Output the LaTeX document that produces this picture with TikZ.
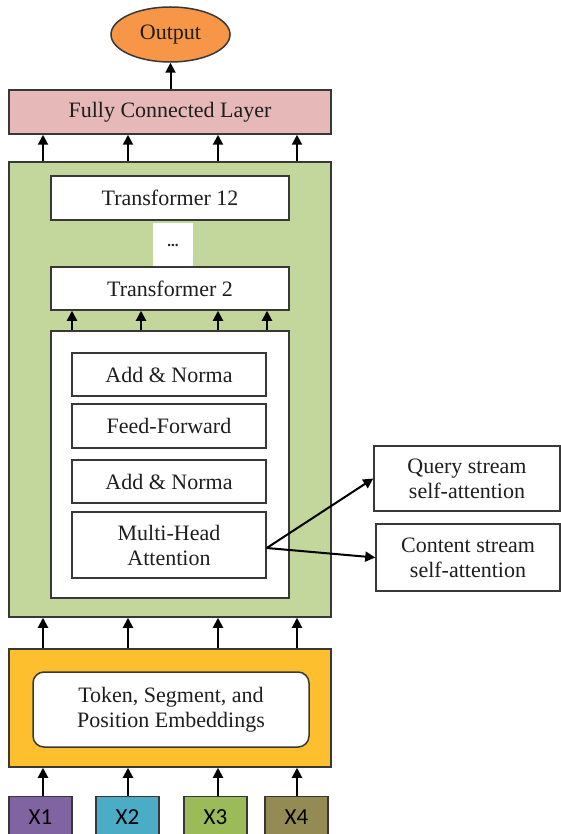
\documentclass[tikz,border=0pt]{standalone}
\usepackage{fontspec}
\setmainfont{Liberation Serif}
\newfontfamily\xfont{Carlito}
\usetikzlibrary{arrows.meta,shapes.geometric}
\definecolor{pinkfc}{HTML}{E6B9B8}
\definecolor{greenbg}{HTML}{C3D69B}
\definecolor{orangebg}{HTML}{FDBF2D}
\definecolor{outorange}{HTML}{F79646}
\definecolor{edge}{HTML}{383838}
\definecolor{txt}{HTML}{1E1E1E}
\definecolor{xone}{HTML}{8064A2}
\definecolor{xtwo}{HTML}{4BACC6}
\definecolor{xthree}{HTML}{9BBB59}
\definecolor{xfour}{HTML}{948A54}
\tikzset{
  x=1pt,y=-1pt,
  box/.style={draw=edge,line width=1.5pt,rectangle,inner sep=0pt,align=center,text=txt,
    font=\fontsize{22}{25}\selectfont},
  xbox/.style={draw=edge,line width=1.5pt,rectangle,inner sep=0pt,text=black,
    font=\xfont\fontsize{23}{26}\selectfont,minimum width=63pt,minimum height=41pt},
  arr/.style={line width=2pt,-{Triangle[length=10pt,width=10pt]}},
}
\begin{document}
\begin{tikzpicture}
\useasboundingbox (0,0) rectangle (561,834);
% outer boxes
\node[box,fill=greenbg,minimum width=322pt,minimum height=455pt] (green) at (170,389.5) {};
\node[box,fill=orangebg,minimum width=322pt,minimum height=118pt] (orange) at (170,708) {};
\node[box,fill=pinkfc,minimum width=322pt,minimum height=44pt] (fc) at (170,112) {Fully Connected Layer};
\node[box,fill=outorange,ellipse,minimum width=119pt,minimum height=55pt] (out) at (170.5,34.5) {Output};
% transformer stack
\node[box,fill=white,minimum width=238pt,minimum height=44pt] (t12) at (170,198) {Transformer 12};
\node[fill=white,inner sep=0pt,minimum width=40pt,minimum height=44pt,text=txt,font=\bfseries\fontsize{15}{16}\selectfont] (dots) at (173,245) {...};
\node[box,fill=white,minimum width=238pt,minimum height=43pt] (t2) at (170,288.5) {Transformer 2};
\node[box,fill=white,minimum width=238pt,minimum height=267pt] (inner) at (170,464.5) {};
\node[box,fill=white,minimum width=194pt,minimum height=43pt] (an1) at (169,374.5) {Add \& Norma};
\node[box,fill=white,minimum width=194pt,minimum height=44pt] (ff) at (169,426) {Feed-Forward};
\node[box,fill=white,minimum width=194pt,minimum height=43pt] (an2) at (169,481.5) {Add \& Norma};
\node[box,fill=white,minimum width=194pt,minimum height=66pt] (mha) at (169,545) {Multi-Head\\Attention};
% side boxes
\node[box,fill=white,minimum width=186pt,minimum height=65pt] (qs) at (467,478.5) {Query stream\\self-attention};
\node[box,fill=white,minimum width=184pt,minimum height=67pt] (cs) at (468,557.5) {Content stream\\self-attention};
% embeddings
\node[box,fill=white,rounded corners=11pt,minimum width=276pt,minimum height=75pt] (emb) at (171,709.5) {Token, Segment, and\\Position Embeddings};
% inputs
\node[xbox,fill=xone] (x1) at (40.5,817) {X1};
\node[xbox,fill=xtwo] (x2) at (127.5,817) {X2};
\node[xbox,fill=xthree] (x3) at (215.5,817) {X3};
\node[xbox,fill=xfour] (x4) at (296.5,817) {X4};
% column coordinates
\coordinate (c1) at (43,0);
\coordinate (c2) at (128,0);
\coordinate (c3) at (218,0);
\coordinate (c4) at (297,0);
\coordinate (d1) at (72,0);
\coordinate (d2) at (141,0);
\coordinate (d3) at (218,0);
\coordinate (d4) at (267,0);
% arrows
\draw[arr] (fc.north -| out.south) -- (out.south);
\foreach \c in {c1,c2,c3,c4}{
  \draw[arr] (green.north -| \c) -- (fc.south -| \c);
  \draw[arr] (orange.north -| \c) -- (green.south -| \c);
}
\draw[arr] (x1.north -| c1) -- (orange.south -| c1);
\draw[arr] (x2.north -| c2) -- (orange.south -| c2);
\draw[arr] (x3.north -| c3) -- (orange.south -| c3);
\draw[arr] (x4.north -| c4) -- (orange.south -| c4);
\foreach \d in {d1,d2,d3,d4}{
  \draw[arr] (inner.north -| \d) -- (t2.south -| \d);
}
\draw[arr] ([yshift=-3pt]mha.east) -- (qs.west);
\draw[arr] ([yshift=-3pt]mha.east) -- (cs.west);
\end{tikzpicture}
\end{document}
